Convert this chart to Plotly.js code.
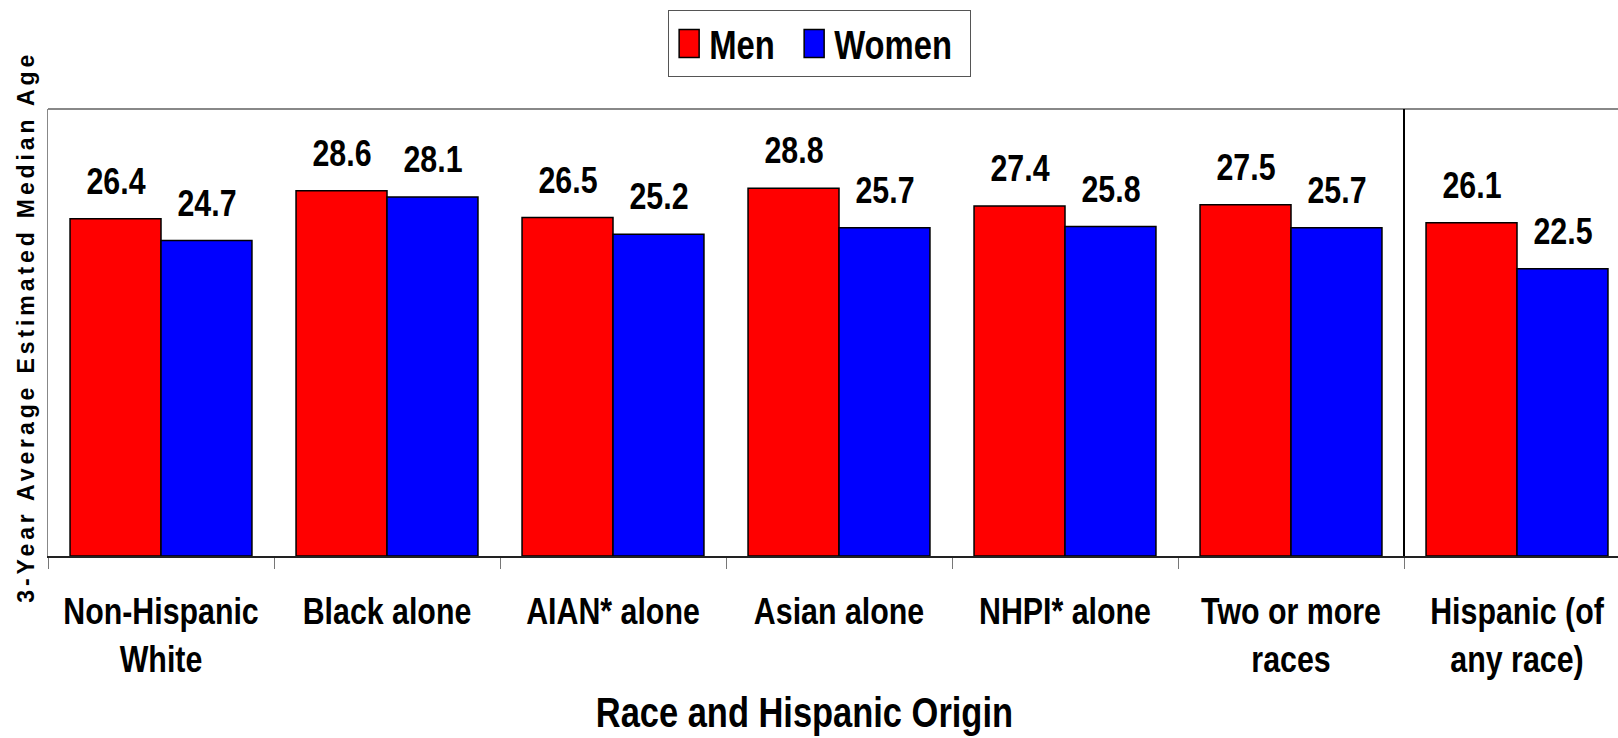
<!DOCTYPE html>
<html>
<head>
<meta charset="utf-8">
<script src="https://cdn.plot.ly/plotly-3.0.1.min.js"></script>
<style>
html, body { margin: 0; padding: 0; background: #fff; overflow: hidden; }
#chart { width: 1640px; height: 738px; }
</style>
</head>
<body>
<div id="chart"></div>
<script>
const categories = ["Non-Hispanic<br>White", "Black alone", "AIAN* alone", "Asian alone", "NHPI* alone", "Two or more<br>races", "Hispanic (of<br>any race)"];
const menValues = [26.4, 28.6, 26.5, 28.8, 27.4, 27.5, 26.1];
const womenValues = [24.7, 28.1, 25.2, 25.7, 25.8, 25.7, 22.5];
const seriesNames = ["Men", "Women"];

const font = "'Liberation Sans', Arial, sans-serif";
const SQUEEZE = 0.82;

const traces = [
  { type: 'bar', name: seriesNames[0], x: categories, y: menValues,
    marker: { color: '#FF0000', line: { color: '#000', width: 1.5 } }, hoverinfo: 'skip' },
  { type: 'bar', name: seriesNames[1], x: categories, y: womenValues,
    marker: { color: '#0000FF', line: { color: '#000', width: 1.5 } }, hoverinfo: 'skip' }
];

const annotations = [];
const half = 45.5;
[menValues, womenValues].forEach((vals, si) => {
  vals.forEach((v, i) => {
    annotations.push({
      x: categories[i], y: v, xref: 'x', yref: 'y',
      text: v.toFixed(1), showarrow: false,
      xanchor: 'center', yanchor: 'bottom',
      xshift: si === 0 ? -half : half, yshift: 15,
      font: { family: font, size: 37, color: '#000', weight: 'bold' }
    });
  });
});
annotations.push({
  xref: 'paper', yref: 'paper', x: 0.4785, y: 0, yanchor: 'middle', xanchor: 'center',
  yshift: -156, showarrow: false,
  text: 'Race and Hispanic Origin',
  font: { family: font, size: 42, color: '#000', weight: 'bold' }
});
annotations.push({
  xref: 'paper', yref: 'paper', x: 0, y: 0.5, xshift: -23, yshift: 3, textangle: -90,
  xanchor: 'center', yanchor: 'middle', showarrow: false,
  text: '3-Year Average Estimated Median Age',
  font: { family: font, size: 23, color: '#000', weight: 'bold' }
});

const layout = {
  width: 1640, height: 738,
  margin: { l: 48, r: 10, t: 109, b: 182 },
  paper_bgcolor: '#fff', plot_bgcolor: '#fff',
  barmode: 'group', bargap: 0.195, bargroupgap: 0,
  showlegend: true,
  legend: {
    orientation: 'h', x: 0.392, xanchor: 'left', y: 1.2215, yanchor: 'top',
    bordercolor: '#555', borderwidth: 1, bgcolor: '#fff',
    font: { family: font, size: 40, color: '#000', weight: 'bold' }
  },
  xaxis: {
    type: 'category', tickson: 'boundaries', ticks: 'outside', ticklen: 11, tickcolor: '#777', tickwidth: 1,
    tickangle: 0, automargin: false,
    showline: true, linecolor: '#222', linewidth: 1.5,
    showgrid: false, zeroline: false, ticklabelstandoff: 22,
    tickfont: { family: font, size: 37, color: '#000', weight: 'bold' },
    fixedrange: true
  },
  yaxis: {
    range: [0, 35], showticklabels: false, ticks: '', showgrid: false, zeroline: false,
    showline: true, linecolor: '#888', linewidth: 1.5, automargin: false,
    fixedrange: true
  },
  shapes: [
    { type: 'line', xref: 'paper', yref: 'paper', x0: 0, x1: 1, y0: 1, y1: 1, line: { color: '#888', width: 2 } },
    { type: 'line', xref: 'x', yref: 'paper', x0: 5.5, x1: 5.5, y0: 0, y1: 1, line: { color: '#000', width: 2 } }
  ],
  annotations: annotations
};

function squeeze(el, factor) {
  const lines = el.querySelectorAll('tspan.line');
  const targets = lines.length ? Array.from(lines) : [el];
  targets.forEach(t => {
    const L = t.getComputedTextLength();
    if (L > 0) {
      t.setAttribute('textLength', (L * factor).toFixed(1));
      t.setAttribute('lengthAdjust', 'spacingAndGlyphs');
    }
  });
}

Plotly.newPlot('chart', traces, layout, { displayModeBar: false, staticPlot: true }).then(gd => {
  gd.querySelectorAll('.xtick text').forEach(t => squeeze(t, SQUEEZE));
  gd.querySelectorAll('.legendtext').forEach(t => squeeze(t, SQUEEZE));
  gd.querySelectorAll('.annotation-text').forEach(t => {
    if (t.textContent.indexOf('3-Year') === 0) {
      t.setAttribute('textLength', '548');
      t.setAttribute('lengthAdjust', 'spacing');
    } else {
      squeeze(t, SQUEEZE);
    }
  });
  // larger legend swatches, like the reference's tall rectangles
  gd.querySelectorAll('.legend .legendpoints path').forEach(p => {
    p.setAttribute('d', 'M10,14H-10V-14H10Z');
    p.style.strokeWidth = '1.5px';
    p.style.stroke = '#000';
  });
  // tighten legend box to fit the condensed text
  const bg = gd.querySelector('.legend rect.bg');
  if (bg) {
    const w = parseFloat(bg.getAttribute('width'));
    bg.setAttribute('width', (w - 13).toFixed(1));
  }
});
</script>
</body>
</html>
